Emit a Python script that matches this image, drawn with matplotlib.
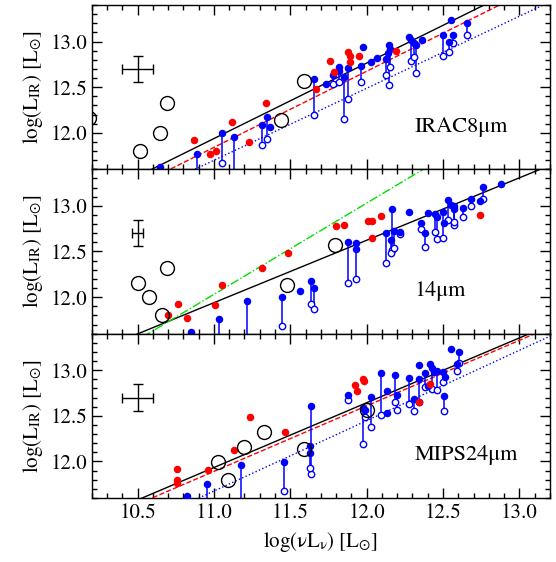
import numpy as np
import matplotlib
matplotlib.use("Agg")
import matplotlib.pyplot as plt
from matplotlib.ticker import MultipleLocator, FormatStrFormatter

plt.rcParams['font.family'] = ['STIXGeneral', 'DejaVu Serif']
plt.rcParams['mathtext.fontset'] = 'stix'

nan = np.nan
OFF = 11.40  # open-circle values that fall below the plotted range

# ---------------- Panel 1: IRAC8um ----------------
p1_label = "IRAC8\u03bcm"
p1_blue_x = [10.647, 10.892, 11.050, 11.130, 11.316, 11.346, 11.370, 11.658, 11.734, 11.779,
             11.816, 11.818, 11.855, 11.881, 11.978, 11.963, 12.030, 12.071, 12.130, 12.147,
             12.150, 12.140, 12.277, 12.292, 12.307, 12.325, 12.362, 12.498, 12.537, 12.563,
             12.552, 12.654]
p1_blue_y = [11.623, 11.763, 12.000, 11.958, 12.090, 12.171, 12.064, 12.589, 12.534, 12.633,
             12.718, 12.680, 12.608, 12.707, 12.945, 12.729, 12.773, 12.820, 12.809, 12.964,
             12.920, 12.880, 13.055, 13.022, 12.982, 12.964, 13.019, 13.074, 12.993, 13.077,
             13.239, 13.203]
p1_open_y = [nan, OFF, 11.675, OFF, 11.866, 11.929, nan, 12.200, nan, 12.534,
             12.553, nan, 12.156, 12.376, nan, 12.553, nan, nan, 12.633, 12.523,
             12.718, nan, nan, 12.791, 12.830, 12.655, nan, 12.843, 12.883, 12.989,
             nan, 13.074]
p1_red_x = [10.870, 10.974, 11.011, 11.117, 11.229, 11.344, 11.669, 11.762, 11.788, 11.875,
            11.888, 11.892, 11.953, 12.195]
p1_red_y = [11.921, 11.763, 11.796, 12.123, 11.903, 12.325, 12.479, 12.784, 12.663, 12.890,
            12.846, 12.773, 12.839, 12.894]
p1_circ_x = [10.18, 10.517, 10.645, 10.693, 11.437, 11.593]
p1_circ_y = [12.167, 11.796, 11.995, 12.325, 12.138, 12.571]
p1_err = (10.5, 12.70, 0.10, 0.14)
# fit lines: (slope, intercept, color, style)
p1_lines = [(0.827, 11.545 * -0.827 + 12.388, 'black', '-'),
            (0.834, 11.545 * -0.834 + 12.295, 'red', '--'),
            (0.789, 10.896 * -0.789 + 11.617, 'blue', ':')]

# ---------------- Panel 2: 14um ----------------
p2_label = "14\u03bcm"
p2_blue_x = [10.853, 11.032, 11.214, 11.446, 11.565, 11.634, 11.654, 11.877, 11.929, 11.929,
             12.125, 12.169, 12.158, 12.180, 12.221, 12.277, 12.359, 12.400, 12.385, 12.450,
             12.461, 12.498, 12.508, 12.530, 12.552, 12.569, 12.575, 12.628, 12.682, 12.740,
             12.762, 12.883]
p2_blue_y = [11.620, 11.763, 11.956, 12.000, 12.066, 12.173, 12.096, 12.604, 12.590, 12.524,
             12.700, 12.964, 12.623, 12.725, 12.714, 12.938, 12.810, 12.920, 12.707, 12.916,
             12.879, 12.938, 12.817, 13.066, 13.011, 12.964, 13.000, 12.982, 13.074, 13.052,
             13.202, 13.238]
p2_open_y = [nan, OFF, OFF, 11.681, nan, 11.927, 11.865, 12.158, 12.202, nan,
             12.378, 12.520, 12.488, 12.543, 12.690, nan, 12.744, nan, 12.546, 12.714,
             12.642, 12.645, nan, 12.840, nan, 12.788, 12.824, 12.883, 12.993, nan,
             13.074, nan]
p2_red_x = [10.701, 10.762, 10.823, 11.005, 11.054, 11.312, 11.485, 11.797, 11.855, 12.006,
            12.037, 12.095, 12.037, 12.740]
p2_red_y = [11.802, 11.923, 11.766, 11.909, 12.129, 12.323, 12.484, 12.774, 12.785, 12.835,
            12.839, 12.887, 12.648, 12.898]
p2_circ_x = [10.502, 10.578, 10.658, 10.693, 11.476, 11.794]
p2_circ_y = [12.158, 12.000, 11.802, 12.323, 12.132, 12.568]
p2_err = (10.5, 12.70, 0.035, 0.14)
p2_lines = [(0.684, 4.415, 'black', '-'),
            (1.000, 1.030, '#00dd00', '-.')]

# ---------------- Panel 3: MIPS24um ----------------
p3_label = "MIPS24\u03bcm"
p3_blue_x = [10.823, 10.955, 11.177, 11.459, 11.638, 11.628, 11.632, 11.875, 11.978, 11.990,
             12.026, 12.093, 12.134, 12.134, 12.188, 12.199, 12.277, 12.307, 12.342, 12.342,
             12.385, 12.416, 12.430, 12.440, 12.461, 12.400, 12.498, 12.510, 12.508, 12.554,
             12.606, 12.595]
p3_blue_y = [11.620, 11.755, 11.956, 11.997, 12.604, 12.165, 12.092, 12.725, 12.587, 12.560,
             12.703, 12.964, 12.769, 12.532, 12.945, 12.733, 12.916, 12.686, 13.055, 12.898,
             12.964, 13.063, 13.020, 12.980, 12.990, 12.824, 12.982, 12.930, 12.714, 13.235,
             13.198, 13.070]
p3_open_y = [nan, OFF, OFF, 11.678, 11.865, 11.927, nan, 12.678, 12.195, 12.488,
             12.378, 12.513, nan, nan, 12.648, 12.560, 12.634, 12.557, nan, 12.652,
             12.820, nan, 12.796, nan, 12.780, nan, 12.868, nan, 12.550, nan,
             13.074, 12.989]
p3_red_x = [10.758, 10.758, 10.760, 10.961, 11.130, 11.234, 11.463, 11.924, 11.940, 11.974,
            11.985, 12.342, 12.418]
p3_red_y = [11.920, 11.799, 11.762, 11.909, 12.129, 12.484, 12.326, 12.835, 12.769, 12.898,
            12.880, 12.652, 12.843]
p3_circ_x = [11.024, 11.095, 11.197, 11.329, 11.593, 12.000]
p3_circ_y = [11.993, 11.796, 12.154, 12.326, 12.140, 12.568]
p3_err = (10.5, 12.70, 0.10, 0.145)
p3_lines = [(0.710, 4.123, 'black', '-'),
            (0.718, 12.422 - 0.718 * 11.74, 'red', '--'),
            (0.771, 12.246 - 0.771 * 11.74, 'blue', ':')]

x_ticks = [10.5, 11.0, 11.5, 12.0, 12.5, 13.0]
y_ticks = [12.0, 12.5, 13.0]
XLIM = (10.2, 13.2)
YLIM = (11.6, 13.4)

panels = [
    (p1_label, p1_blue_x, p1_blue_y, p1_open_y, p1_red_x, p1_red_y, p1_circ_x, p1_circ_y, p1_err, p1_lines),
    (p2_label, p2_blue_x, p2_blue_y, p2_open_y, p2_red_x, p2_red_y, p2_circ_x, p2_circ_y, p2_err, p2_lines),
    (p3_label, p3_blue_x, p3_blue_y, p3_open_y, p3_red_x, p3_red_y, p3_circ_x, p3_circ_y, p3_err, p3_lines),
]

fig = plt.figure(figsize=(5.56, 5.62), dpi=100)
gs = fig.add_gridspec(3, 1, left=0.165, right=0.989, top=0.991, bottom=0.114, hspace=0)
axes = [fig.add_subplot(gs[i]) for i in range(3)]

for i, (ax, p) in enumerate(zip(axes, panels)):
    label, bx, by, boy, rx, ry, cx, cy, err, lines = p
    bx = np.array(bx); by = np.array(by); boy = np.array(boy)
    xx = np.linspace(XLIM[0], XLIM[1], 200)
    for slope, icpt, col, ls in lines:
        ax.plot(xx, slope * xx + icpt, color=col, ls=ls, lw=1.0, zorder=2)
    # connectors
    for x0, y0, y1 in zip(bx, by, boy):
        if not np.isnan(y1):
            ax.plot([x0, x0], [y0, y1], color='blue', lw=1.1, zorder=3)
    m = ~np.isnan(boy)
    ax.plot(bx[m], boy[m], 'o', mfc='white', mec='blue', mew=1.0, ms=4.6, ls='none', zorder=4)
    ax.plot(bx, by, 'o', color='blue', ms=4.4, ls='none', zorder=5)
    ax.plot(rx, ry, 'o', color='red', ms=4.4, ls='none', zorder=6)
    ax.plot(cx, cy, 'o', mfc='none', mec='black', mew=1.0, ms=10, ls='none', zorder=7)
    ex, ey, exx, eyy = err
    ax.errorbar([ex], [ey], xerr=[exx], yerr=[eyy], fmt='none', ecolor='black',
                elinewidth=1.0, capsize=3.5, capthick=1.0, zorder=8)
    ax.text(0.705, 0.26, label, transform=ax.transAxes, fontsize=16, va='center', ha='left')

    ax.set_xlim(*XLIM)
    ax.set_ylim(*YLIM)
    ax.set_xticks(x_ticks)
    ax.set_yticks(y_ticks)
    ax.xaxis.set_minor_locator(MultipleLocator(0.1))
    ax.yaxis.set_minor_locator(MultipleLocator(0.1))
    ax.yaxis.set_major_formatter(FormatStrFormatter('%.1f'))
    ax.xaxis.set_major_formatter(FormatStrFormatter('%.1f'))
    ax.tick_params(which='both', direction='in', top=True, right=True, labelsize=15, width=1.0)
    ax.tick_params(which='major', length=7)
    ax.tick_params(which='minor', length=3.5)
    for s in ax.spines.values():
        s.set_linewidth(1.0)
    ax.set_ylabel(r'log(L$_{\rm IR}$) [L$_{\odot}$]', fontsize=15, labelpad=4)
    if i < 2:
        ax.tick_params(labelbottom=False)

axes[2].set_xlabel('log(\u03bdL' + r'$_{\mathrm{\nu}}$) [L$_{\odot}$]', fontsize=15, labelpad=5)

fig.savefig('out.png', dpi=100)
